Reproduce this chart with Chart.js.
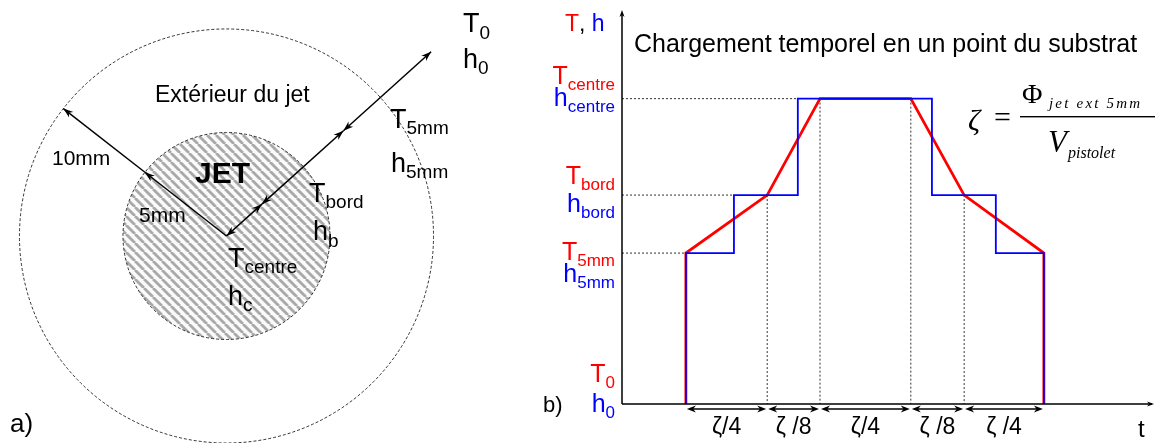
<!DOCTYPE html>
<html>
<head>
<meta charset="utf-8">
<script src="https://cdn.jsdelivr.net/npm/chart.js@4"></script>
<style>
  html, body { margin: 0; padding: 0; background: #fff; }
  #wrap { position: relative; width: 1156px; height: 443px; }
  canvas { position: absolute; top: 0; }
  #jetChart { left: 0; }
  #loadChart { left: 530px; }
</style>
</head>
<body>
<div id="wrap">
  <canvas id="jetChart" width="530" height="443"></canvas>
  <canvas id="loadChart" width="626" height="443"></canvas>
</div>
<script>
// ---- panel a) : jet geometry (mm) ----
const circleRadii = [5, 10];
const leftRayAngle = 142;            // degrees
const leftRayStops = [0, 5, 10];     // mm, one head at the end of each segment
const rightRayAngle = 42;
const rightRayStops = [0, 2.3, 7.6, 13.3]; // mm, double headed segments

// ---- panel b) : loading in time ----
const tRed = [12.1, 12.1, 27.5, 37.5, 54.7, 64.8, 79.9, 79.9];
const valRed = [0, 38.5, 53.3, 77.9, 77.9, 53.3, 38.5, 0];
const tBlue = [12.1, 12.1, 21.2, 33.3, 58.7, 70.8, 79.9];
const valBlue = [0, 38.5, 53.3, 77.9, 53.3, 38.5, 0];
const levelValues = [77.9, 53.3, 38.5, 0];
const levelSubs = ['centre', 'bord', '5mm', '0'];
const hGuideEnd = [33.3, 21.2, 12.1];
const vGuideT = [27.5, 37.5, 54.7, 64.8];
const vGuideTop = [53.3, 77.9, 77.9, 53.3];
const spanBreaks = [12.1, 27.5, 37.5, 54.7, 64.8, 79.9];
const spanLabels = ['ζ/4', 'ζ /8', 'ζ/4', 'ζ /8', 'ζ /4'];

const SANS = "'Liberation Sans', Arial, sans-serif";
const SERIF = "'Liberation Serif', 'Times New Roman', serif";

function head(ctx, x, y, ang, len, half) {
    ctx.beginPath();
    ctx.moveTo(x, y);
    ctx.lineTo(x - len * Math.cos(ang) + half * Math.sin(ang), y - len * Math.sin(ang) - half * Math.cos(ang));
    ctx.lineTo(x - len * 0.7 * Math.cos(ang), y - len * 0.7 * Math.sin(ang));
    ctx.lineTo(x - len * Math.cos(ang) - half * Math.sin(ang), y - len * Math.sin(ang) + half * Math.cos(ang));
    ctx.closePath();
    ctx.fill();
}

// text with subscript, align 'left' or 'right'
function subText(ctx, x, y, main, sub, mainPx, subPx, color, dy, align) {
    ctx.fillStyle = color;
    ctx.textAlign = 'left';
    ctx.textBaseline = 'alphabetic';
    ctx.font = mainPx + 'px ' + SANS;
    const w1 = ctx.measureText(main).width;
    ctx.font = subPx + 'px ' + SANS;
    const w2 = ctx.measureText(sub).width;
    const x0 = align === 'right' ? x - w1 - w2 : x;
    ctx.font = mainPx + 'px ' + SANS;
    ctx.fillText(main, x0, y);
    ctx.font = subPx + 'px ' + SANS;
    ctx.fillText(sub, x0 + w1, y + dy);
}

function rayPoints(angle, stops) {
    const a = angle * Math.PI / 180;
    return stops.map(r => ({ x: r * Math.cos(a), y: r * Math.sin(a) }));
}

const leftPts = rayPoints(leftRayAngle, leftRayStops);
const rightPts = rayPoints(rightRayAngle, rightRayStops);

const jetDatasets = [];
for (let i = 0; i < leftPts.length - 1; i++) {
    jetDatasets.push({ data: [leftPts[i], leftPts[i + 1]], heads: 'end' });
}
for (let i = 0; i < rightPts.length - 1; i++) {
    jetDatasets.push({ data: [rightPts[i], rightPts[i + 1]], heads: 'both' });
}
jetDatasets.forEach(d => {
    d.showLine = true;
    d.borderColor = '#000';
    d.borderWidth = 1.5;
    d.pointRadius = 0;
    d.clip = false;
});

const jetPlugin = {
    id: 'jetPlugin',
    beforeDatasetsDraw(chart) {
        const ctx = chart.ctx;
        const xs = chart.scales.x, ys = chart.scales.y;
        const cx = xs.getPixelForValue(0), cy = ys.getPixelForValue(0);
        ctx.save();
        // outer circle
        const rOut = xs.getPixelForValue(circleRadii[1]) - cx;
        ctx.setLineDash([3, 2]);
        ctx.strokeStyle = '#000';
        ctx.lineWidth = 0.8;
        ctx.beginPath();
        ctx.arc(cx, cy, rOut, 0, Math.PI * 2);
        ctx.stroke();
        // hatched jet
        const n = 9;
        const tile = document.createElement('canvas');
        tile.width = n; tile.height = n;
        const g = tile.getContext('2d');
        g.fillStyle = '#fafafa';
        g.fillRect(0, 0, n, n);
        g.strokeStyle = '#a9a9a9';
        g.lineWidth = 2.8;
        [-n, 0, n].forEach(o => { g.beginPath(); g.moveTo(o, 0); g.lineTo(o + n, n); g.stroke(); });
        const rIn = xs.getPixelForValue(circleRadii[0]) - cx;
        ctx.beginPath();
        ctx.arc(cx, cy, rIn, 0, Math.PI * 2);
        ctx.fillStyle = ctx.createPattern(tile, 'repeat');
        ctx.fill();
        ctx.stroke();
        ctx.restore();
    },
    afterDatasetsDraw(chart) {
        const ctx = chart.ctx;
        ctx.save();
        ctx.fillStyle = '#000';
        chart.data.datasets.forEach((ds, i) => {
            const pts = chart.getDatasetMeta(i).data;
            const p0 = pts[0], p1 = pts[pts.length - 1];
            const ang = Math.atan2(p1.y - p0.y, p1.x - p0.x);
            head(ctx, p1.x, p1.y, ang, 10, 3.5);
            if (ds.heads === 'both') head(ctx, p0.x, p0.y, ang + Math.PI, 10, 3.5);
        });
        // labels
        ctx.fillStyle = '#000';
        ctx.font = '23px ' + SANS;
        ctx.fillText('Extérieur du jet', 155, 102);
        ctx.font = 'bold 30px ' + SANS;
        ctx.fillText('JET', 195, 183);
        ctx.font = '21px ' + SANS;
        ctx.fillText('10mm', 52, 165);
        ctx.fillText('5mm', 139, 222);
        ctx.font = '26px ' + SANS;
        ctx.fillText('a)', 10, 432);
        subText(ctx, 463, 32, 'T', '0', 27, 19, '#000', 7, 'left');
        subText(ctx, 463, 68, 'h', '0', 27, 19, '#000', 6, 'left');
        subText(ctx, 390, 128, 'T', '5mm', 27, 19, '#000', 6, 'left');
        subText(ctx, 391, 172, 'h', '5mm', 27, 19, '#000', 6, 'left');
        subText(ctx, 309, 202, 'T', 'bord', 27, 19, '#000', 6, 'left');
        subText(ctx, 313, 240, 'h', 'b', 27, 19, '#000', 7, 'left');
        subText(ctx, 228, 267, 'T', 'centre', 27, 19, '#000', 6, 'left');
        subText(ctx, 228, 305, 'h', 'c', 27, 19, '#000', 6, 'left');
        ctx.restore();
    }
};

new Chart(document.getElementById('jetChart').getContext('2d'), {
    type: 'scatter',
    data: { datasets: jetDatasets },
    options: {
        responsive: false,
        animation: false,
        layout: { padding: 0 },
        plugins: { legend: { display: false }, tooltip: { enabled: false } },
        scales: {
            x: { type: 'linear', display: false, min: -10.94, max: 14.66 },
            y: { type: 'linear', display: false, min: -10, max: 11.4 }
        }
    },
    plugins: [jetPlugin]
});

// ---- panel b) ----
const guideSets = [];
levelValues.slice(0, 3).forEach((v, i) => {
    guideSets.push({ data: [{ x: 0, y: v }, { x: hGuideEnd[i], y: v }] });
});
vGuideT.forEach((t, i) => {
    guideSets.push({ data: [{ x: t, y: vGuideTop[i] }, { x: t, y: 0 }] });
});
guideSets.forEach(d => {
    d.showLine = true;
    d.borderColor = '#333';
    d.borderWidth = 1;
    d.borderDash = [2, 2];
    d.pointRadius = 0;
});

const loadPlugin = {
    id: 'loadPlugin',
    afterDatasetsDraw(chart) {
        const ctx = chart.ctx;
        const xs = chart.scales.x, ys = chart.scales.y;
        const a = chart.chartArea;
        ctx.save();
        // axes with arrows
        ctx.strokeStyle = '#000';
        ctx.fillStyle = '#000';
        ctx.lineWidth = 1.5;
        ctx.beginPath();
        ctx.moveTo(a.left, a.bottom);
        ctx.lineTo(a.left, a.top + 2);
        ctx.moveTo(a.left, a.bottom);
        ctx.lineTo(a.right + 2, a.bottom);
        ctx.stroke();
        head(ctx, a.left, a.top - 2, -Math.PI / 2, 7, 2.5);
        head(ctx, a.right + 4, a.bottom, 0, 7, 2.5);

        // spans below the time axis
        const ya = a.bottom + 5;
        ctx.lineWidth = 1.5;
        for (let i = 0; i < spanBreaks.length - 1; i++) {
            const x0 = xs.getPixelForValue(spanBreaks[i]) + 1;
            const x1 = xs.getPixelForValue(spanBreaks[i + 1]) - 1;
            ctx.beginPath();
            ctx.moveTo(x0 + 4, ya);
            ctx.lineTo(x1 - 4, ya);
            ctx.stroke();
            head(ctx, x1, ya, 0, 9, 3.5);
            head(ctx, x0, ya, Math.PI, 9, 3.5);
            ctx.font = '23px ' + SANS;
            ctx.textAlign = 'center';
            ctx.fillText(spanLabels[i], (x0 + x1) / 2, 434);
        }
        ctx.textAlign = 'left';
        ctx.font = '24px ' + SANS;
        ctx.fillText('t', 608, 437);
        ctx.font = '22px ' + SANS;
        ctx.fillText('b)', 13, 412);

        // axis title "T, h"
        ctx.font = '23px ' + SANS;
        let x = 35;
        ctx.fillStyle = '#ff0000'; ctx.fillText('T', x, 31); x += ctx.measureText('T').width;
        ctx.fillStyle = '#000'; ctx.fillText(', ', x, 31); x += ctx.measureText(', ').width;
        ctx.fillStyle = '#0000ff'; ctx.fillText('h', x, 31);

        // level labels
        const tBase = [-15, -11, 7, -22];
        const hBase = [7, 17, 29, 8];
        levelValues.forEach((v, i) => {
            const py = ys.getPixelForValue(v);
            subText(ctx, 85, py + tBase[i], 'T', levelSubs[i], 25, 17, '#ff0000', 6, 'right');
            subText(ctx, 85, py + hBase[i], 'h', levelSubs[i], 25, 17, '#0000ff', 6, 'right');
        });

        // title
        ctx.fillStyle = '#000';
        ctx.font = '25px ' + SANS;
        ctx.fillText('Chargement temporel en un point du substrat', 104, 52);

        // formula
        ctx.font = 'italic 30px ' + SERIF;
        ctx.fillText('ζ', 438, 130);
        ctx.font = '30px ' + SERIF;
        ctx.fillText('=', 464, 127);
        ctx.fillRect(490, 116, 135, 1.4);
        ctx.font = '28px ' + SERIF;
        ctx.fillText('Φ', 492, 103);
        ctx.font = 'italic 15px ' + SERIF;
        ctx.letterSpacing = '2.2px';
        ctx.fillText('jet ext 5mm', 519, 108);
        ctx.letterSpacing = '0px';
        ctx.font = 'italic 31px ' + SERIF;
        ctx.fillText('V', 518, 152);
        ctx.font = 'italic 16px ' + SERIF;
        ctx.fillText('pistolet', 538, 158);
        ctx.restore();
    }
};

new Chart(document.getElementById('loadChart').getContext('2d'), {
    type: 'scatter',
    data: {
        datasets: guideSets.concat([
            {
                data: tBlue.map((t, i) => ({ x: t, y: valBlue[i] })),
                showLine: true,
                stepped: 'before',
                borderColor: '#0000ff',
                borderWidth: 1.8,
                pointRadius: 0,
                clip: false
            },
            {
                data: tRed.map((t, i) => ({ x: t, y: valRed[i] })),
                showLine: true,
                borderColor: '#ff0000',
                borderWidth: 2.8,
                pointRadius: 0,
                clip: false
            }
        ])
    },
    options: {
        responsive: false,
        animation: false,
        layout: { padding: { left: 92, right: 6, top: 12, bottom: 39 } },
        plugins: { legend: { display: false }, tooltip: { enabled: false } },
        scales: {
            x: { type: 'linear', display: false, min: 0, max: 100 },
            y: { type: 'linear', display: false, min: 0, max: 100 }
        }
    },
    plugins: [loadPlugin]
});
</script>
</body>
</html>
